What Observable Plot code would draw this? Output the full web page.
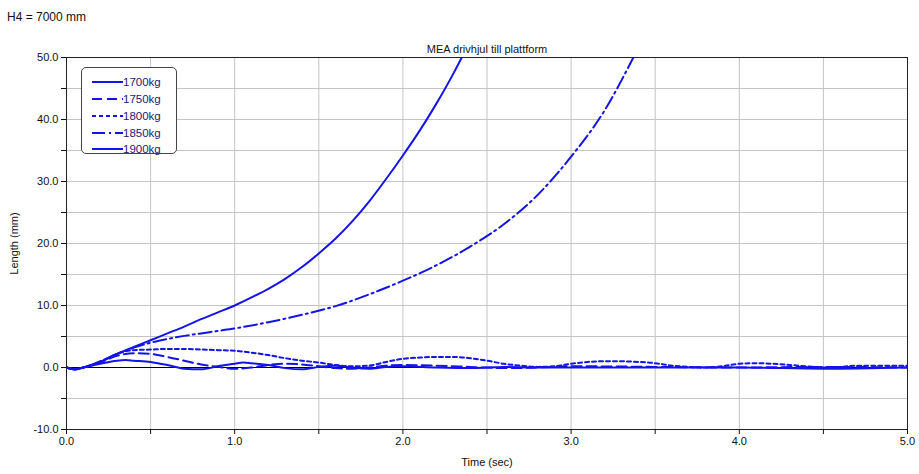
<!DOCTYPE html>
<html><head><meta charset="utf-8">
<script src="https://cdn.jsdelivr.net/npm/d3@7"></script>
<script src="https://cdn.jsdelivr.net/npm/@observablehq/plot@0.6"></script>
<style>
body{margin:0;background:#fff;font-family:"Liberation Sans",Arial,sans-serif;}
#wrap{position:relative;width:919px;height:474px;}
#h4{position:absolute;left:7px;top:10px;font-size:12px;color:#111;}
#legend{position:absolute;left:81px;top:67px;width:96px;height:87px;border:1px solid #444;border-radius:5px;background:#fff;box-sizing:border-box;}
.row{position:absolute;left:10px;height:14px;display:flex;align-items:center;font-size:11.5px;color:#1a1a78;}
.row svg{margin-right:0px;}
</style></head>
<body><div id="wrap"><div id="h4">H4 = 7000 mm</div><div id="chart"></div><div id="legend"></div></div>
<script>
const seriesNames = ["1700kg","1750kg","1800kg","1850kg","1900kg"];
const dashes = ["none","10,5","4,3","13,4,2,4","none"];

const t1700 = [0,0.05,0.1,0.2,0.3,0.35,0.4,0.5,0.6,0.7,0.8,0.9,1.0,1.05,1.1,1.2,1.3,1.4,1.5,1.6,1.7,1.8,1.9,2.0,2.2,2.4,2.6,2.8,3.0,3.5,4.0,4.5,5.0];
const v1700 = [0,-0.3,0,0.6,1.1,1.2,1.1,0.9,0.4,-0.2,-0.3,0.2,0.6,0.8,0.7,0.4,-0.1,-0.3,0.1,0.3,0.0,-0.2,0.1,0.2,0.0,-0.1,0.1,0.0,0.0,0.0,0.0,-0.2,0.0];

const t1750 = [0,0.05,0.1,0.2,0.3,0.4,0.5,0.6,0.7,0.8,0.9,1.0,1.1,1.2,1.3,1.4,1.5,1.6,1.7,1.8,1.9,2.0,2.2,2.4,2.6,2.8,3.0,3.5,4.0,4.5,5.0];
const v1750 = [0,-0.3,0,0.8,1.9,2.3,2.2,1.7,1.1,0.5,0.1,-0.2,0.0,0.4,0.6,0.5,0.2,-0.1,-0.2,0.0,0.3,0.4,0.3,0.1,-0.1,0.0,0.2,0.1,0.0,0.1,0.0];

const t1800 = [0,0.05,0.1,0.2,0.3,0.4,0.5,0.6,0.7,0.8,0.9,1.0,1.1,1.2,1.3,1.4,1.5,1.6,1.7,1.8,1.9,2.0,2.1,2.2,2.3,2.4,2.5,2.6,2.7,2.8,2.9,3.0,3.1,3.2,3.3,3.4,3.5,3.6,3.7,3.8,3.9,4.0,4.1,4.2,4.3,4.4,4.5,4.6,4.7,4.8,4.9,5.0];
const v1800 = [0,-0.3,0,0.9,2.2,2.8,2.9,3.0,3.0,2.9,2.8,2.7,2.4,2.0,1.5,1.1,0.8,0.4,0.2,0.3,0.9,1.4,1.6,1.7,1.7,1.5,1.1,0.6,0.3,0.1,0.2,0.6,0.9,1.0,1.0,0.9,0.7,0.3,0.1,0.0,0.2,0.6,0.7,0.6,0.4,0.2,0.0,0.1,0.3,0.3,0.3,0.3];

const t1850 = [0,0.05,0.1,0.2,0.3,0.4,0.5,0.6,0.7,0.8,0.9,1.0,1.2,1.4,1.6,1.8,2.0,2.2,2.4,2.6,2.8,3.0,3.2,3.37];
const v1850 = [0,-0.3,0,1.0,2.2,3.2,4.0,4.6,5.1,5.5,5.9,6.3,7.3,8.5,9.9,11.8,14.0,16.5,19.5,23.1,27.8,34.0,41.5,50];

const t1900 = [0,0.05,0.1,0.2,0.3,0.4,0.5,0.6,0.7,0.8,0.9,1.0,1.1,1.2,1.3,1.4,1.5,1.6,1.7,1.8,1.9,2.0,2.1,2.2,2.3,2.35];
const v1900 = [0,-0.3,0,0.9,2.2,3.3,4.4,5.5,6.6,7.8,8.9,10,11.3,12.7,14.3,16.2,18.4,20.8,23.6,26.8,30.4,34.2,38.2,42.6,47.4,50];

const xMajor = [0,1,2,3,4,5];
const xMinor = [0.5,1.5,2.5,3.5,4.5];
const xGrid = [0.5,1,1.5,2,2.5,3,3.5,4,4.5];
const yMajor = [-10,0,10,20,30,40,50];
const yMinor = [-5,5,15,25,35,45];
const yGrid = [-5,5,10,15,20,25,30,35,40,45];

const times = [t1700,t1750,t1800,t1850,t1900];
const vals = [v1700,v1750,v1800,v1850,v1900];
const blue = "#1414e6";

const lines = seriesNames.map((name,i) => {
  const data = times[i].map((t,j) => ({t, v: vals[i][j]}));
  const opts = {x:"t", y:"v", stroke: blue, strokeWidth: 2, clip: true, curve: "monotone-x"};
  if (dashes[i] !== "none") opts.strokeDasharray = dashes[i];
  return Plot.line(data, opts);
});

const fmt = d => d.toFixed(1);
const chart = Plot.plot({
  width: 919, height: 474,
  marginLeft: 66, marginRight: 12, marginTop: 57, marginBottom: 45,
  style: {fontFamily: "'Liberation Sans', Arial, sans-serif", fontSize: "11px", color: "#111", background: "#fff"},
  x: {domain: [0,5], axis: null},
  y: {domain: [-10,50], axis: null},
  marks: [
    Plot.gridX(xGrid, {stroke: "#c4c4c4", strokeOpacity: 1}),
    Plot.gridY(yGrid, {stroke: "#c4c4c4", strokeOpacity: 1}),
    Plot.ruleY([0], {stroke: "#000", strokeWidth: 1}),
    ...lines,
    Plot.frame({stroke: "#222"}),
    Plot.axisX(xMajor, {tickFormat: fmt, tickSize: 5, tickPadding: 3, label: "Time (sec)", labelAnchor: "center", labelOffset: 36, labelArrow: "none", fontSize: 11}),
    Plot.axisX(xMinor, {tickFormat: () => "", tickSize: 5, label: null}),
    Plot.axisY(yMajor, {tickFormat: fmt, tickSize: 5, tickPadding: 3, label: "Length (mm)", labelAnchor: "center", labelOffset: 56, labelArrow: "none", fontSize: 11}),
    Plot.axisY(yMinor, {tickFormat: () => "", tickSize: 5, label: null}),
    Plot.text(["MEA drivhjul till plattform"], {frameAnchor: "top", dy: -12, fontSize: 11, fill: "#111"})
  ]
});
document.getElementById("chart").appendChild(chart);

// legend
const leg = document.getElementById("legend");
const rowTops = [7, 24, 41, 58, 74];
seriesNames.forEach((name,i) => {
  const row = document.createElement("div");
  row.className = "row";
  row.style.top = rowTops[i] + "px";
  const dash = dashes[i] === "none" ? "" : `stroke-dasharray="${dashes[i]}"`;
  row.innerHTML = `<svg width="31" height="6"><line x1="0" y1="3" x2="31" y2="3" stroke="${blue}" stroke-width="2" ${dash}/></svg>${name}`;
  leg.appendChild(row);
});
</script>
</body></html>
